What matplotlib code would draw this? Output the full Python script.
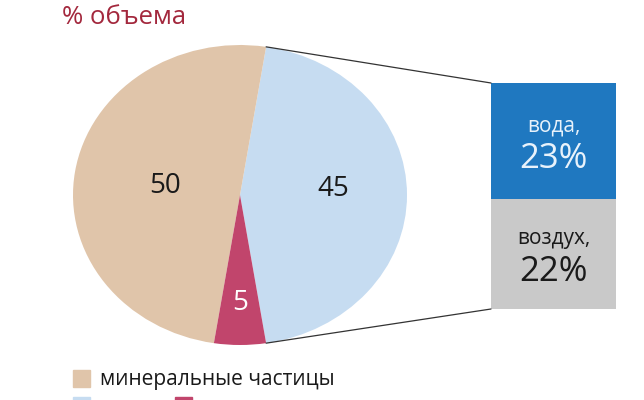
import matplotlib.pyplot as plt
from matplotlib.patches import Rectangle, ConnectionPatch
import numpy as np

plt.rcParams['font.family'] = ['Open Sans', 'DejaVu Sans']

# data
pie_labels = ['поры', 'минеральные частицы', 'органическое вещество']
pie_values = [45, 50, 5]
pie_colors = ['#c6dcf1', '#e0c5aa', '#c1456c']
pie_text_colors = ['#1a1a1a', '#1a1a1a', 'white']

pore_labels = ['вода', 'воздух']
pore_values = [23, 22]
pore_colors = ['#1f78c0', '#c9c9c9']
pore_text_colors = ['#e8f2fb', '#1a1a1a']

title = '% объема'

W, H = 644, 400
fig = plt.figure(figsize=(W / 100, H / 100), dpi=100)


def rect(l, t, w, h):
    # pixel box (from top-left) -> figure fraction
    return [l / W, (H - t - h) / H, w / W, h / H]


# pie
axp = fig.add_axes(rect(73, 45, 334, 300))
half = pie_values[0] / sum(pie_values) * 180
wedges, _ = axp.pie(pie_values, colors=pie_colors, startangle=-half,
                    counterclock=True, radius=1)
axp.set_aspect('auto')
axp.set_xlim(-1, 1)
axp.set_ylim(-1, 1)
label_pos = [(0.56, 0.04), (-0.45, 0.06), (0.0, -0.72)]
for (x, y), v, c in zip(label_pos, pie_values, pie_text_colors):
    axp.text(x, y, str(v), ha='center', va='center', fontsize=20, color=c)

# stacked bar for the pores split
axb = fig.add_axes(rect(491, 83, 125, 226))
bottom = sum(pore_values)
for lab, v, col, tc in zip(pore_labels, pore_values, pore_colors, pore_text_colors):
    bottom -= v
    axb.bar(0, v, bottom=bottom, width=1, color=col)
    mid = bottom + v / 2
    axb.text(0, mid + 3.0, lab + ',', ha='center', va='center',
             fontsize=15, color=tc)
    axb.text(0, mid - 3.6, f'{v}%', ha='center', va='center',
             fontsize=25, color=tc)
axb.set_xlim(-0.5, 0.5)
axb.set_ylim(0, sum(pore_values))
axb.axis('off')

# connector lines
a = np.deg2rad(half)
for sy, by in [(np.sin(a), sum(pore_values)), (-np.sin(a), 0)]:
    con = ConnectionPatch(xyA=(np.cos(a), sy), coordsA=axp.transData,
                          xyB=(-0.5, by), coordsB=axb.transData,
                          color='#333333', lw=0.9)
    fig.add_artist(con)

# title
fig.text(62 / W, 1 - 18 / H, title, ha='left', va='center', fontsize=18.5,
         color='#a3283d')

# legend (second row cut off by the image edge)
leg = [(73, 370, 1, 9), (73, 397, 0, 13), (175, 397, 2, 13)]
for x, y, i, dy in leg:
    fig.add_artist(Rectangle((x / W, 1 - (y + 17) / H), 17 / W, 17 / H,
                             transform=fig.transFigure, color=pie_colors[i]))
    fig.text((x + 27) / W, 1 - (y + dy) / H, pie_labels[i], ha='left',
             va='center', fontsize=15, color='#1a1a1a')

fig.savefig('out.png', dpi=100)
